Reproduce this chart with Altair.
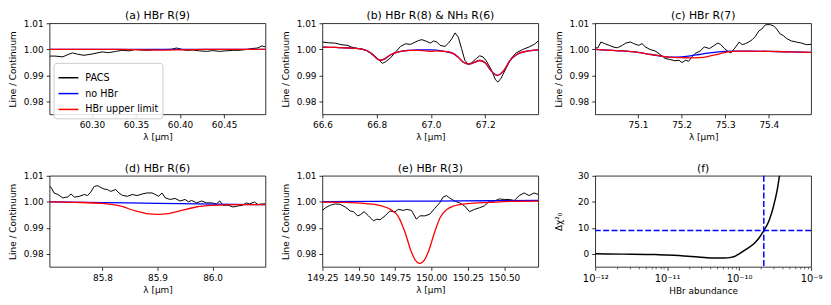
import altair as alt
import pandas as pd

FONT = "DejaVu Sans"
SERIES = ["PACS", "no HBr", "HBr upper limit"]
SERIES_COLORS = ["#000000", "#0000ff", "#ff0000"]
Y_TICKS = [0.98, 0.99, 1.00, 1.01]
Y_DOMAIN = [0.975, 1.01]

# ---------------- (a) HBr R(9) ----------------
a_pacs_x = [60.252, 60.258, 60.267, 60.273, 60.278, 60.284, 60.291, 60.299, 60.306, 60.312,
            60.319, 60.327, 60.334, 60.342, 60.349, 60.357, 60.364, 60.374, 60.381, 60.390,
            60.396, 60.402, 60.407, 60.415, 60.422, 60.430, 60.437, 60.445, 60.452, 60.460,
            60.467, 60.475, 60.482, 60.488, 60.493, 60.497]
a_pacs_y = [0.9974, 0.9974, 0.9971, 0.9980, 0.9986, 0.9981, 0.9977, 0.9981, 0.9986, 0.9990,
            0.9987, 0.9992, 0.9996, 0.9994, 0.9999, 0.9997, 0.9996, 0.9999, 0.9999, 1.0000,
            1.0005, 1.0000, 0.9996, 0.9997, 0.9994, 0.9992, 0.9995, 0.9992, 0.9994, 0.9996,
            0.9996, 0.9999, 1.0003, 1.0005, 1.0013, 1.0009]
a_nohbr_x = [60.252, 60.35, 60.40, 60.497]
a_nohbr_y = [1.0000, 1.0000, 1.0000, 1.0000]
a_ul_x = [60.252, 60.33, 60.36, 60.38, 60.40, 60.43, 60.497]
a_ul_y = [1.0000, 1.0000, 0.9998, 0.9997, 0.9998, 1.0000, 1.0000]

# ---------------- (b) HBr R(8) & NH3 R(6) ----------------
b_pacs_x = [66.600, 66.621, 66.645, 66.669, 66.694, 66.706, 66.718, 66.742, 66.761, 66.779,
            66.791, 66.809, 66.821, 66.833, 66.852, 66.870, 66.888, 66.906, 66.925, 66.937,
            66.955, 66.967, 66.985, 66.998, 67.010, 67.022, 67.034, 67.052, 67.065, 67.077,
            67.089, 67.101, 67.113, 67.125, 67.137, 67.150, 67.168, 67.180, 67.192, 67.204,
            67.223, 67.238, 67.247, 67.259, 67.277, 67.296, 67.314, 67.338, 67.362, 67.381,
            67.396]
b_pacs_y = [1.0028, 1.0025, 1.0024, 1.0018, 1.0015, 1.0009, 1.0006, 1.0001, 0.9996, 0.9984,
            0.9977, 0.9958, 0.9946, 0.9952, 0.9968, 0.9990, 1.0011, 1.0021, 1.0019, 1.0025,
            1.0034, 1.0037, 1.0030, 1.0024, 1.0032, 1.0028, 1.0015, 1.0011, 1.0024, 1.0040,
            1.0063, 1.0047, 1.0003, 0.9958, 0.9943, 0.9948, 0.9965, 0.9975, 0.9971, 0.9956,
            0.9921, 0.9883, 0.9874, 0.9889, 0.9927, 0.9965, 0.9986, 0.9999, 1.0009, 1.0019,
            1.0032]
b_nohbr_x = [66.60, 66.65, 66.70, 66.75, 66.78, 66.80, 66.815, 66.83, 66.85, 66.88,
             66.92, 66.95, 66.98, 67.00, 67.02, 67.05, 67.08, 67.10, 67.12, 67.14,
             67.16, 67.18, 67.20, 67.22, 67.245, 67.27, 67.29, 67.32, 67.35, 67.396]
b_nohbr_y = [1.0008, 1.0007, 1.0005, 1.0000, 0.9985, 0.9965, 0.9958, 0.9963, 0.9978, 0.9990,
             0.9996, 0.9998, 0.9998, 0.9998, 0.9997, 0.9992, 0.9985, 0.9970, 0.9950, 0.9943,
             0.9950, 0.9957, 0.9948, 0.9920, 0.9900, 0.9920, 0.9955, 0.9982, 0.9992, 0.9998]
b_ul_x = b_nohbr_x
b_ul_y = [1.0008, 1.0007, 1.0005, 1.0000, 0.9985, 0.9965, 0.9958, 0.9963, 0.9978, 0.9990,
          0.9996, 0.9996, 0.9994, 0.9992, 0.9994, 0.9992, 0.9985, 0.9970, 0.9950, 0.9943,
          0.9950, 0.9957, 0.9948, 0.9920, 0.9900, 0.9920, 0.9955, 0.9982, 0.9992, 0.9998]

# ---------------- (c) HBr R(7) ----------------
c_pacs_x = [75.002, 75.008, 75.015, 75.023, 75.034, 75.045, 75.053, 75.064, 75.072, 75.083,
            75.090, 75.102, 75.109, 75.117, 75.128, 75.139, 75.151, 75.162, 75.173, 75.185,
            75.194, 75.201, 75.209, 75.216, 75.224, 75.231, 75.243, 75.252, 75.264, 75.275,
            75.283, 75.290, 75.298, 75.305, 75.313, 75.324, 75.332, 75.339, 75.347, 75.354,
            75.362, 75.369, 75.377, 75.384, 75.392, 75.402, 75.411, 75.418, 75.426, 75.433,
            75.441, 75.452, 75.463, 75.475, 75.486, 75.497]
c_pacs_y = [1.0006, 1.0005, 1.0028, 1.0022, 1.0015, 1.0008, 1.0006, 1.0015, 1.0024, 1.0028,
            1.0022, 1.0015, 1.0022, 1.0009, 0.9999, 0.9994, 0.9980, 0.9965, 0.9961, 0.9956,
            0.9958, 0.9949, 0.9958, 0.9954, 0.9971, 0.9984, 0.9994, 1.0009, 1.0003, 1.0015,
            1.0024, 1.0018, 1.0003, 0.9994, 0.9986, 1.0009, 1.0028, 1.0018, 1.0022, 1.0028,
            1.0037, 1.0049, 1.0070, 1.0078, 1.0094, 1.0095, 1.0090, 1.0078, 1.0059, 1.0053,
            1.0041, 1.0032, 1.0028, 1.0024, 1.0018, 1.0019]
c_nohbr_x = [75.002, 75.05, 75.10, 75.13, 75.16, 75.18, 75.20, 75.22, 75.24, 75.26,
             75.28, 75.30, 75.32, 75.35, 75.40, 75.45, 75.497]
c_nohbr_y = [1.0000, 0.9995, 0.9988, 0.9980, 0.9972, 0.9970, 0.9971, 0.9975, 0.9980, 0.9985,
             0.9989, 0.9992, 0.9993, 0.9993, 0.9992, 0.9990, 0.9988]
c_ul_x = c_nohbr_x
c_ul_y = [1.0000, 0.9995, 0.9988, 0.9980, 0.9972, 0.9969, 0.9968, 0.9967, 0.9968, 0.9972,
          0.9980, 0.9988, 0.9992, 0.9993, 0.9992, 0.9990, 0.9988]

# ---------------- (d) HBr R(6) ----------------
d_pacs_x = [85.704, 85.707, 85.712, 85.719, 85.728, 85.737, 85.743, 85.749, 85.758, 85.767,
            85.773, 85.779, 85.785, 85.791, 85.797, 85.803, 85.809, 85.815, 85.824, 85.830,
            85.836, 85.845, 85.854, 85.863, 85.872, 85.881, 85.890, 85.896, 85.902, 85.908,
            85.914, 85.923, 85.932, 85.941, 85.950, 85.956, 85.962, 85.971, 85.980, 85.989,
            85.998, 86.007, 86.013, 86.019, 86.028, 86.037, 86.046, 86.055, 86.061, 86.067,
            86.076, 86.082, 86.091, 86.096]
d_pacs_y = [1.0059, 1.0055, 1.0034, 1.0028, 1.0015, 1.0019, 1.0030, 1.0018, 1.0021, 1.0028,
            1.0024, 1.0038, 1.0059, 1.0062, 1.0055, 1.0049, 1.0047, 1.0040, 1.0047, 1.0034,
            1.0025, 1.0021, 1.0028, 1.0024, 1.0030, 1.0034, 1.0034, 1.0028, 1.0021, 1.0034,
            1.0015, 1.0009, 1.0013, 1.0003, 1.0009, 1.0000, 1.0005, 0.9996, 1.0003, 0.9996,
            0.9996, 0.9992, 1.0003, 0.9986, 0.9987, 0.9980, 0.9984, 0.9987, 0.9996, 0.9992,
            0.9999, 0.9990, 0.9992, 0.9992]
d_nohbr_x = [85.704, 85.80, 85.90, 86.00, 86.096]
d_nohbr_y = [1.0000, 0.9997, 0.9994, 0.9991, 0.9989]
d_ul_x = [85.704, 85.75, 85.80, 85.83, 85.86, 85.88, 85.90, 85.92, 85.94, 85.97,
          86.00, 86.05, 86.096]
d_ul_y = [1.0000, 0.9998, 0.9994, 0.9985, 0.9965, 0.9955, 0.9952, 0.9955, 0.9965, 0.9980,
          0.9986, 0.9989, 0.9989]

# ---------------- (e) HBr R(3) ----------------
e_pacs_x = [149.250, 149.271, 149.305, 149.339, 149.373, 149.407, 149.441, 149.464, 149.492, 149.510,
            149.537, 149.567, 149.601, 149.624, 149.647, 149.681, 149.715, 149.749, 149.772, 149.806,
            149.829, 149.863, 149.897, 149.920, 149.954, 149.988, 150.023, 150.057, 150.080, 150.102,
            150.125, 150.159, 150.194, 150.228, 150.262, 150.296, 150.330, 150.364, 150.399, 150.433,
            150.467, 150.501, 150.535, 150.570, 150.604, 150.638, 150.672, 150.706, 150.735]
e_pacs_y = [0.9967, 0.9977, 0.9987, 0.9992, 0.9990, 0.9980, 0.9965, 0.9962, 0.9946, 0.9950,
            0.9962, 0.9946, 0.9927, 0.9933, 0.9931, 0.9946, 0.9965, 0.9961, 0.9971, 0.9967,
            0.9971, 0.9967, 0.9933, 0.9946, 0.9946, 0.9952, 0.9975, 0.9996, 1.0018, 1.0024,
            1.0015, 1.0003, 0.9996, 0.9984, 0.9962, 0.9971, 0.9977, 0.9984, 1.0003, 1.0003,
            1.0011, 1.0009, 1.0009, 1.0005, 1.0024, 1.0034, 1.0024, 1.0034, 1.0028]
e_nohbr_x = [149.25, 149.60, 150.00, 150.40, 150.735]
e_nohbr_y = [1.0001, 1.0002, 1.0003, 1.0004, 1.0005]
e_ul_x = [149.25, 149.40, 149.55, 149.65, 149.72, 149.77, 149.82, 149.86, 149.89, 149.92,
          149.95, 149.98, 150.02, 150.06, 150.10, 150.15, 150.25, 150.40, 150.55, 150.735]
e_ul_y = [0.9999, 0.9998, 0.9993, 0.9985, 0.9970, 0.9945, 0.9880, 0.9810, 0.9775, 0.9763,
          0.9775, 0.9810, 0.9880, 0.9940, 0.9968, 0.9983, 0.9993, 0.9998, 1.0002, 1.0003]

# ---------------- (f) chi-square vs abundance ----------------
f_abund = [1.0e-12, 2.4e-12, 6.8e-12, 1.0e-11, 1.95e-11, 3.3e-11, 4.5e-11, 6.2e-11, 7.7e-11,
           9.0e-11, 1.0e-10, 1.23e-10, 1.6e-10, 1.89e-10, 2.2e-10, 2.6e-10, 3.05e-10, 3.4e-10,
           3.7e-10]
f_chi = [0.0, -0.1, -0.25, -0.45, -0.9, -1.4, -1.6, -1.6, -1.35, -0.75, 0.0, 1.6, 3.9, 6.1,
         8.9, 12.7, 19.0, 25.0, 31.5]
f_limit = [2.2e-10]
f_threshold = [9.0]
f_major_ticks = [1e-12, 1e-11, 1e-10, 1e-9]
f_minor_ticks = [2e-12, 3e-12, 4e-12, 5e-12, 6e-12, 7e-12, 8e-12, 9e-12,
                 2e-11, 3e-11, 4e-11, 5e-11, 6e-11, 7e-11, 8e-11, 9e-11,
                 2e-10, 3e-10, 4e-10, 5e-10, 6e-10, 7e-10, 8e-10, 9e-10]


def color_enc(legend):
    return alt.Color("s:N", scale=alt.Scale(domain=SERIES, range=SERIES_COLORS), legend=legend)


def spec_panel(title, px, py, bx, by, rx, ry, xdom, xticks, xfmt, legend=None):
    dp = pd.DataFrame({"x": px, "y": py, "s": SERIES[0]})
    db = pd.DataFrame({"x": bx, "y": by, "s": SERIES[1]})
    dr = pd.DataFrame({"x": rx, "y": ry, "s": SERIES[2]})
    xenc = alt.X("x:Q", scale=alt.Scale(domain=xdom, nice=False, zero=False),
                 axis=alt.Axis(values=xticks, format=xfmt, title="λ [μm]", labelFlush=False))
    yenc = alt.Y("y:Q", scale=alt.Scale(domain=Y_DOMAIN, nice=False, zero=False),
                 axis=alt.Axis(values=Y_TICKS, format=".2f", title="Line / Continuum",
                               minExtent=27, maxExtent=27))
    lp = alt.Chart(dp).mark_line(strokeWidth=1.0, clip=True).encode(xenc, yenc, color_enc(legend))
    lb = alt.Chart(db).mark_line(strokeWidth=1.3, clip=True, interpolate="monotone").encode(
        xenc, yenc, color_enc(legend))
    lr = alt.Chart(dr).mark_line(strokeWidth=1.3, clip=True, interpolate="monotone").encode(
        xenc, yenc, color_enc(legend))
    return alt.layer(lp, lb, lr).properties(
        width=218, height=92, title=alt.TitleParams(title, frame="group"))


leg = alt.Legend(orient="none", legendX=4, legendY=40, title=None, symbolType="stroke",
                 symbolSize=400, symbolStrokeWidth=1.5, labelFont=FONT, labelFontSize=9.7,
                 labelColor="black", fillColor="rgba(255,255,255,0.85)", strokeColor="#cccccc",
                 padding=4, cornerRadius=3, rowPadding=-6, labelOffset=6)

pa = spec_panel("(a) HBr R(9)", a_pacs_x, a_pacs_y, a_nohbr_x, a_nohbr_y, a_ul_x, a_ul_y,
                [60.252, 60.497], [60.30, 60.35, 60.40, 60.45], ".2f", legend=leg)
pb = spec_panel("(b) HBr R(8) & NH₃ R(6)", b_pacs_x, b_pacs_y, b_nohbr_x, b_nohbr_y, b_ul_x, b_ul_y,
                [66.6, 67.396], [66.6, 66.8, 67.0, 67.2], ".1f")
pc = spec_panel("(c) HBr R(7)", c_pacs_x, c_pacs_y, c_nohbr_x, c_nohbr_y, c_ul_x, c_ul_y,
                [75.002, 75.497], [75.1, 75.2, 75.3, 75.4], ".1f")
pdd = spec_panel("(d) HBr R(6)", d_pacs_x, d_pacs_y, d_nohbr_x, d_nohbr_y, d_ul_x, d_ul_y,
                 [85.704, 86.096], [85.8, 85.9, 86.0], ".1f")
pe = spec_panel("(e) HBr R(3)", e_pacs_x, e_pacs_y, e_nohbr_x, e_nohbr_y, e_ul_x, e_ul_y,
                [149.25, 150.735], [149.25, 149.5, 149.75, 150.0, 150.25, 150.5], ".2f")

# panel f
f_df = pd.DataFrame({"a": f_abund, "chi": f_chi})
xf_scale = alt.Scale(type="log", domain=[1e-12, 1e-9], nice=False)
yf_scale = alt.Scale(domain=[-5, 30], nice=False, zero=False)
label_expr = ("datum.value < 5e-12 ? '10⁻¹²' : datum.value < 5e-11 ? '10⁻¹¹' : "
              "datum.value < 5e-10 ? '10⁻¹⁰' : '10⁻⁹'")
xf_axis = alt.Axis(values=f_major_ticks, labelExpr=label_expr, orient="bottom",
                   title="HBr abundance", labelFlush=False, labelFontSize=10)
xf_minor_axis = alt.Axis(values=f_minor_ticks, labels=False, title=None, orient="bottom",
                         tickSize=2, tickWidth=0.6)
yf_axis = alt.Axis(values=[0, 10, 20, 30], title="Δχ²₀", minExtent=27, maxExtent=27)
f_line = alt.Chart(f_df).mark_line(color="black", strokeWidth=1.5, clip=True,
                                   interpolate="monotone").encode(
    alt.X("a:Q", scale=xf_scale, axis=xf_axis),
    alt.Y("chi:Q", scale=yf_scale, axis=yf_axis))
f_v = alt.Chart(pd.DataFrame({"a": f_limit})).mark_rule(
    color="#0000ff", strokeWidth=1.5, strokeDash=[6, 2.5]).encode(
    alt.X("a:Q", scale=xf_scale, axis=xf_minor_axis))
f_h = alt.Chart(pd.DataFrame({"chi": f_threshold})).mark_rule(
    color="#0000ff", strokeWidth=1.5, strokeDash=[6, 2.5]).encode(
    alt.Y("chi:Q", scale=yf_scale, axis=yf_axis))
pf = alt.layer(f_line, f_v, f_h).resolve_axis(x="independent").properties(
    width=218, height=92, title=alt.TitleParams("(f)", frame="group"))

row1 = alt.hconcat(pa, pb, pc, spacing=14.5).resolve_legend(color="independent")
row2 = alt.hconcat(pdd, pe, pf, spacing=14.5).resolve_legend(color="independent")

chart = alt.vconcat(row1, row2, spacing=20).resolve_legend(color="independent").properties(
    padding=0
).configure_view(stroke="black", strokeWidth=0.8).configure_axis(
    labelFont=FONT, titleFont=FONT, labelFontSize=9, titleFontSize=9,
    labelColor="black", titleColor="black", tickColor="black", tickSize=3.5,
    tickWidth=0.8, domain=False, grid=False, labelPadding=3, titlePadding=3,
    titleFontWeight="normal"
).configure_axisY(titlePadding=5).configure_title(
    font=FONT, fontSize=11, fontWeight="normal", color="black", offset=-2
)

chart.save("out.html", embed_options={"renderer": "svg", "actions": False})
